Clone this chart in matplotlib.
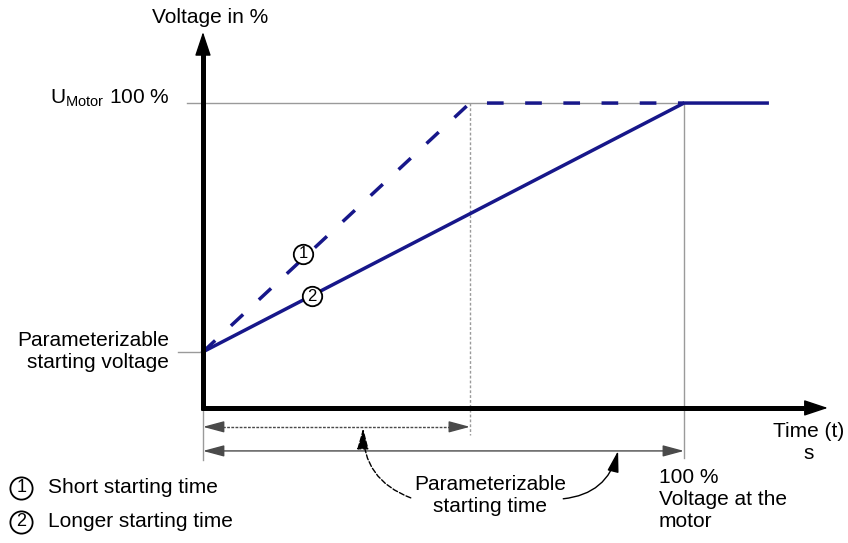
import numpy as np                  #numpy for arrays
import matplotlib.pyplot as plt     #matplotlib to draw

plt.rcParams['font.family'] = ['Liberation Sans', 'DejaVu Sans']   #arial-like font

#data (time in % of long starting time, voltage in %)
tShort = [0, 55.5, 100]         #time points of curve 1 (short start)
vShort = [18.4, 100, 100]       #voltage points of curve 1
tLong = [0, 100, 117.3]         #time points of curve 2 (long start)
vLong = [18.4, 100, 100]        #voltage points of curve 2
vStart = 18.4                   #parameterizable starting voltage
vFull = 100                     #U motor 100 %
tEnd1 = 55.5                    #end of short ramp
tEnd2 = 100                     #end of long ramp
navy = '#17178a'                #line colour
grey = '#9a9a9a'                #helper line colour
dark = '#4a4a4a'                #dimension arrows

fig = plt.figure(figsize=(8.48, 5.43), dpi=100)    #848 x 543 px
ax = fig.add_axes([0, 0, 1, 1])                     #full figure axes
ax.set_xlim(-42.2, 134.1)                           #x range
ax.set_ylim(-44.3, 133.8)                           #y range
ax.axis('off')                                      #no normal axes

#grey helper lines
ax.plot([-3.3, tEnd2], [vFull, vFull], color=grey, lw=1, zorder=1)             #100 % line
ax.plot([-5.2, 0], [vStart, vStart], color=grey, lw=1, zorder=1)               #start voltage tick
ax.plot([tEnd1, tEnd1], [vFull, -8.9], color=grey, lw=1, ls=(0, (2, 1.5)), zorder=1)   #dotted drop line
ax.plot([tEnd2, tEnd2], [vFull, -16.4], color=grey, lw=1, zorder=1)            #solid drop line
ax.plot([0, 0], [0, -17], color=grey, lw=1, zorder=1)                          #left limit of dimensions

#axes arrows
ax.plot([0, 0], [-0.6, 117], color='black', lw=3.6, solid_capstyle='butt', zorder=4)     #y axis
ax.plot([-0.35, 125], [0, 0], color='black', lw=3.6, solid_capstyle='butt', zorder=4)    #x axis
headStyle = '-|>,head_length=1.5,head_width=0.5'
ax.annotate('', xy=(0, 123.3), xytext=(0, 116), arrowprops=dict(arrowstyle=headStyle, mutation_scale=10, color='black', lw=1, shrinkA=0, shrinkB=0), zorder=5)
ax.annotate('', xy=(129.9, 0), xytext=(124, 0), arrowprops=dict(arrowstyle=headStyle, mutation_scale=10, color='black', lw=1, shrinkA=0, shrinkB=0), zorder=5)

#curves
ax.plot(tShort, vShort, color=navy, lw=2.5, dashes=(4.8, 6.2), zorder=3)    #curve 1 dashed
ax.plot(tLong, vLong, color=navy, lw=2.5, zorder=3)                         #curve 2 solid

#circled numbers on curves
ax.plot([20.8], [50.5], 'o', ms=14, mfc='white', mec='black', mew=1.3, zorder=6)
ax.text(20.8, 50.5, '1', ha='center', va='center', fontsize=12, zorder=7)
ax.plot([22.7], [36.7], 'o', ms=14, mfc='white', mec='black', mew=1.3, zorder=6)
ax.text(22.7, 36.7, '2', ha='center', va='center', fontsize=12, zorder=7)

#dimension arrows
smallHead = '-|>,head_length=1.3,head_width=0.35'
ax.plot([1.5, tEnd1 - 1.5], [-6.2, -6.2], color=dark, lw=1, ls=(0, (2, 1)), zorder=2)   #dotted dimension
ax.annotate('', xy=(0, -6.2), xytext=(3, -6.2), arrowprops=dict(arrowstyle=smallHead, mutation_scale=10, color=dark, lw=1, shrinkA=0, shrinkB=0))
ax.annotate('', xy=(tEnd1, -6.2), xytext=(tEnd1 - 3, -6.2), arrowprops=dict(arrowstyle=smallHead, mutation_scale=10, color=dark, lw=1, shrinkA=0, shrinkB=0))
ax.annotate('', xy=(0, -14.1), xytext=(tEnd2, -14.1), arrowprops=dict(arrowstyle='<|-|>,head_length=1.3,head_width=0.35', mutation_scale=10, color=dark, lw=1, shrinkA=0, shrinkB=0))

#curved pointers
ax.annotate('', xy=(33.3, -6.6), xytext=(43.2, -29.5), arrowprops=dict(arrowstyle=smallHead, mutation_scale=10, color='black', lw=1, ls='--', connectionstyle='arc3,rad=-0.35', shrinkA=0, shrinkB=0))
ax.annotate('', xy=(86.3, -14.1), xytext=(74.9, -29.8), arrowprops=dict(arrowstyle=smallHead, mutation_scale=10, color='black', lw=1, connectionstyle='arc3,rad=0.35', shrinkA=0, shrinkB=0))

#texts
fs = 15
ax.text(1.5, 128.2, 'Voltage in %', ha='center', va='center', fontsize=fs)
ax.text(-6.9, 101.6, r'U$_{\mathregular{Motor}}$ 100 %', ha='right', va='center', fontsize=fs)
ax.text(-7.1, 18.6, 'Parameterizable\nstarting voltage', ha='right', va='center', fontsize=fs, linespacing=1.22)
ax.text(126.0, -11.3, 'Time (t)\ns', ha='center', va='center', fontsize=fs, linespacing=1.22)
ax.text(59.7, -28.7, 'Parameterizable\nstarting time', ha='center', va='center', fontsize=fs, linespacing=1.22)
ax.text(94.8, -30.0, '100 %\nVoltage at the\nmotor', ha='left', va='center', fontsize=fs, linespacing=1.22)

#legend
legendText = ['Short starting time', 'Longer starting time']   #legend entries
legendY = [-26.2, -37.4]                                        #legend rows
for i in range(2):
    ax.plot([-37.8], [legendY[i]], 'o', ms=16, mfc='white', mec='black', mew=1.3)
    ax.text(-37.8, legendY[i], str(i + 1), ha='center', va='center', fontsize=13)
    ax.text(-32.2, legendY[i], legendText[i], ha='left', va='center', fontsize=fs)

fig.savefig('out.png', dpi=100)    #save
